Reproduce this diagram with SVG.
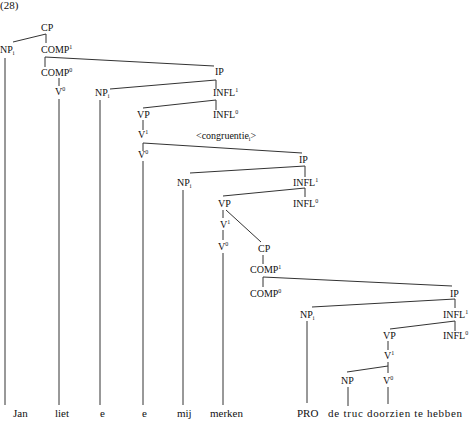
<svg xmlns="http://www.w3.org/2000/svg" width="470" height="423" viewBox="0 0 470 423">
<style>
text{font-family:"Liberation Serif","Times New Roman",serif;font-size:10px;fill:#111}
.leaf{font-size:11px}
.sup{font-size:6px}
.sub{font-size:6px}
#connectors line{stroke:#333;stroke-width:1;fill:none}
</style>
<rect width="470" height="423" fill="#fff"/>
<text x="0" y="9" class="leaf">(28)</text>
<g id="connectors">
<line x1="13" y1="42" x2="46" y2="34"/>
<line x1="46" y1="34" x2="46" y2="43"/>
<line x1="5" y1="58" x2="5" y2="405"/>
<line x1="45" y1="57" x2="214" y2="66"/>
<line x1="45" y1="57" x2="45" y2="67"/>
<line x1="59" y1="78" x2="59" y2="86"/>
<line x1="59" y1="99" x2="59" y2="405"/>
<line x1="110" y1="89" x2="216" y2="80"/>
<line x1="216" y1="80" x2="216" y2="89"/>
<line x1="100" y1="100" x2="100" y2="405"/>
<line x1="143" y1="108" x2="216" y2="100"/>
<line x1="216" y1="100" x2="216" y2="110"/>
<line x1="143" y1="120" x2="143" y2="130"/>
<line x1="143" y1="143" x2="302" y2="153"/>
<line x1="143" y1="143" x2="143" y2="151"/>
<line x1="143" y1="161" x2="143" y2="405"/>
<line x1="190" y1="173" x2="305" y2="166"/>
<line x1="305" y1="166" x2="305" y2="177"/>
<line x1="183" y1="190" x2="183" y2="405"/>
<line x1="223" y1="196" x2="305" y2="188"/>
<line x1="305" y1="188" x2="305" y2="197"/>
<line x1="223" y1="210" x2="223" y2="218"/>
<line x1="226" y1="210" x2="261" y2="242"/>
<line x1="223" y1="230" x2="223" y2="240"/>
<line x1="223" y1="253" x2="223" y2="405"/>
<line x1="263" y1="255" x2="263" y2="264"/>
<line x1="263" y1="277" x2="452" y2="286"/>
<line x1="263" y1="277" x2="263" y2="287"/>
<line x1="312" y1="307" x2="455" y2="299"/>
<line x1="455" y1="299" x2="455" y2="308"/>
<line x1="307" y1="321" x2="307" y2="403"/>
<line x1="390" y1="329" x2="455" y2="321"/>
<line x1="455" y1="321" x2="455" y2="331"/>
<line x1="388" y1="341" x2="388" y2="350"/>
<line x1="347" y1="372" x2="388" y2="366"/>
<line x1="388" y1="362" x2="388" y2="373"/>
<line x1="348" y1="387" x2="348" y2="406"/>
<line x1="388" y1="387" x2="388" y2="404"/>
</g>
<g id="cp1"><text x="41" y="31">CP</text></g>
<g id="np1"><text x="0" y="53">NP<tspan class="sub" dy="2">i</tspan></text></g>
<g id="compbar1"><text x="41" y="53">COMP<tspan class="sup" dy="-4">1</tspan></text></g>
<g id="comp0-1"><text x="41" y="76">COMP<tspan class="sup" dy="-4">0</tspan></text></g>
<g id="v0-1"><text x="55" y="95">V<tspan class="sup" dy="-4">0</tspan></text></g>
<g id="np2"><text x="95" y="96">NP<tspan class="sub" dy="2">i</tspan></text></g>
<g id="ip1"><text x="215" y="75">IP</text></g>
<g id="inflbar1"><text x="213" y="96">INFL<tspan class="sup" dy="-4">1</tspan></text></g>
<g id="vp1"><text x="137" y="118">VP</text></g>
<g id="infl0-1"><text x="213" y="118">INFL<tspan class="sup" dy="-4">0</tspan></text></g>
<g id="vbar1"><text x="138" y="138">V<tspan class="sup" dy="-4">1</tspan></text></g>
<g id="congruentie"><text x="196" y="139">&lt;congruentie<tspan class="sub" dy="2">i</tspan><tspan dy="-2">&gt;</tspan></text></g>
<g id="v0-2"><text x="138" y="158">V<tspan class="sup" dy="-4">0</tspan></text></g>
<g id="ip2"><text x="299" y="163">IP</text></g>
<g id="np3"><text x="177" y="186">NP<tspan class="sub" dy="2">i</tspan></text></g>
<g id="inflbar2"><text x="293" y="186">INFL<tspan class="sup" dy="-4">1</tspan></text></g>
<g id="vp2"><text x="218" y="207">VP</text></g>
<g id="infl0-2"><text x="293" y="207">INFL<tspan class="sup" dy="-4">0</tspan></text></g>
<g id="vbar2"><text x="220" y="228">V<tspan class="sup" dy="-4">1</tspan></text></g>
<g id="v0-3"><text x="218" y="250">V<tspan class="sup" dy="-4">0</tspan></text></g>
<g id="cp2"><text x="258" y="252">CP</text></g>
<g id="compbar2"><text x="250" y="273">COMP<tspan class="sup" dy="-4">1</tspan></text></g>
<g id="comp0-2"><text x="250" y="297">COMP<tspan class="sup" dy="-4">0</tspan></text></g>
<g id="ip3"><text x="450" y="297">IP</text></g>
<g id="np4"><text x="300" y="318">NP<tspan class="sub" dy="2">i</tspan></text></g>
<g id="inflbar3"><text x="443" y="318">INFL<tspan class="sup" dy="-4">1</tspan></text></g>
<g id="vp3"><text x="383" y="339">VP</text></g>
<g id="infl0-3"><text x="443" y="339">INFL<tspan class="sup" dy="-4">0</tspan></text></g>
<g id="vbar3"><text x="384" y="359">V<tspan class="sup" dy="-4">1</tspan></text></g>
<g id="np5"><text x="341" y="384">NP</text></g>
<g id="v0-4"><text x="383" y="384">V<tspan class="sup" dy="-4">0</tspan></text></g>
<g id="w-jan"><text class="leaf" x="13" y="417">Jan</text></g>
<g id="w-liet"><text class="leaf" x="55" y="417">liet</text></g>
<g id="w-e1"><text class="leaf" x="100" y="417">e</text></g>
<g id="w-e2"><text class="leaf" x="142" y="417">e</text></g>
<g id="w-mij"><text class="leaf" x="177" y="417">mij</text></g>
<g id="w-merken"><text class="leaf" x="210" y="417">merken</text></g>
<g id="w-pro"><text class="leaf" x="297" y="417">PRO</text></g>
<g id="w-detruc"><text class="leaf" x="328" y="417" textLength="35" lengthAdjust="spacing">de truc</text></g>
<g id="w-doorzien"><text class="leaf" x="367" y="417" textLength="95" lengthAdjust="spacing">doorzien te hebben</text></g>
</svg>
